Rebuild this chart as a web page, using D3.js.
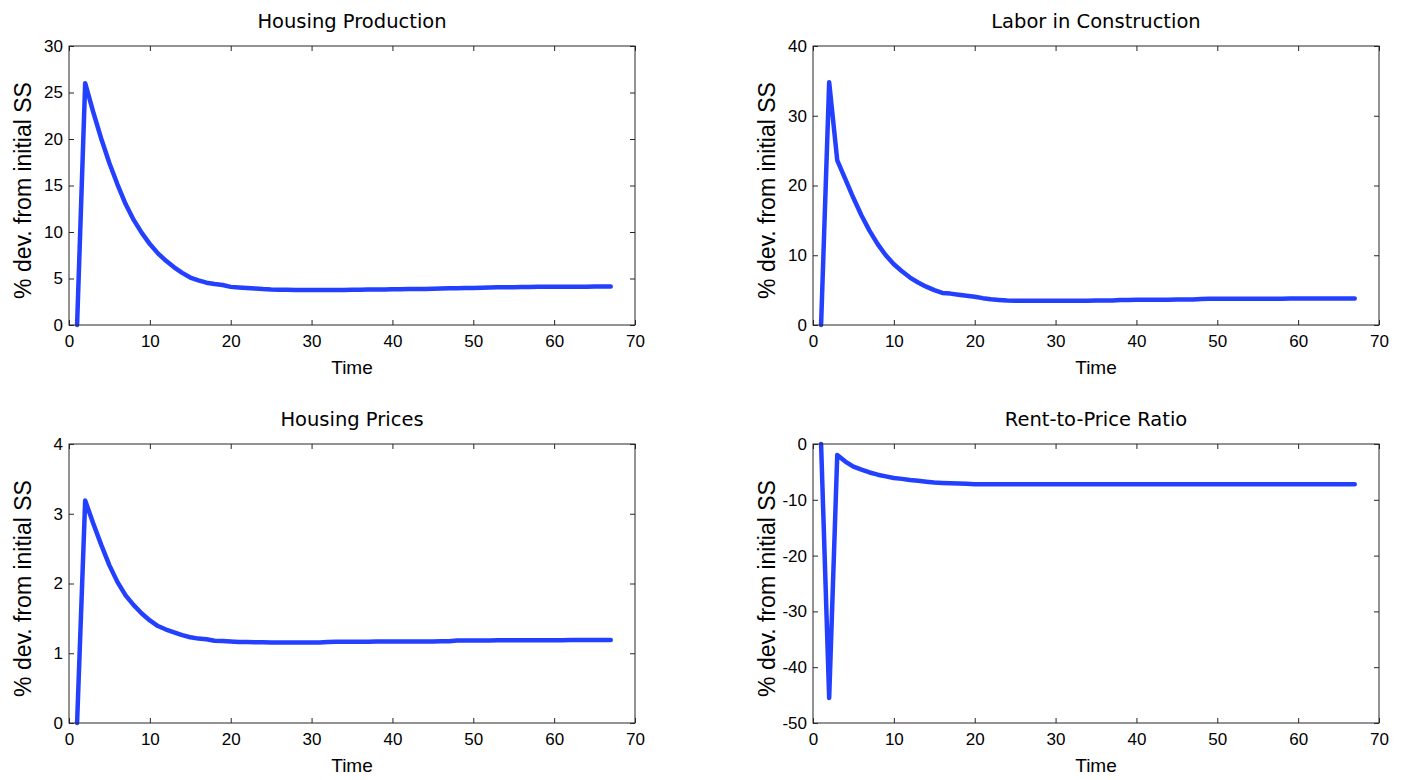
<!DOCTYPE html>
<html><head><meta charset="utf-8">
<script src="https://cdn.jsdelivr.net/npm/d3@7"></script>
<style>
html,body{margin:0;padding:0;background:#fff;}
svg{display:block;}
</style></head><body>
<svg id="chart" width="1408" height="780"></svg>
<script>
// ---- data ----
const time = d3.range(1, 68); // periods 1..67
const housingProduction = [
  0, 26.0, 22.9, 20.0, 17.4, 15.1, 13.0, 11.3, 9.9, 8.7,
  7.7, 6.9, 6.2, 5.6, 5.1, 4.8, 4.55, 4.4, 4.3, 4.1,
  4.03, 3.97, 3.92, 3.86, 3.82, 3.8, 3.78, 3.77, 3.76, 3.76,
  3.76, 3.76, 3.76, 3.77, 3.78, 3.8, 3.81, 3.82, 3.83, 3.84,
  3.85, 3.86, 3.87, 3.88, 3.9, 3.92, 3.94, 3.95, 3.97, 3.98,
  4.0, 4.02, 4.05, 4.06, 4.07, 4.08, 4.09, 4.1, 4.1, 4.11,
  4.11, 4.12, 4.12, 4.12, 4.13, 4.13, 4.13
];
const laborConstruction = [
  0, 34.8, 23.6, 20.9, 18.2, 15.7, 13.5, 11.6, 10.0, 8.7,
  7.7, 6.8, 6.1, 5.5, 5.0, 4.6, 4.5, 4.35, 4.2, 4.05,
  3.85, 3.7, 3.6, 3.5, 3.48, 3.47, 3.47, 3.47, 3.47, 3.47,
  3.47, 3.48, 3.48, 3.49, 3.5, 3.5, 3.52, 3.6, 3.6, 3.61,
  3.62, 3.62, 3.63, 3.63, 3.64, 3.64, 3.65, 3.74, 3.75, 3.75,
  3.76, 3.76, 3.77, 3.77, 3.77, 3.78, 3.78, 3.78, 3.79, 3.79,
  3.79, 3.8, 3.8, 3.8, 3.8, 3.8, 3.8
];
const housingPrices = [
  0, 3.19, 2.86, 2.55, 2.26, 2.02, 1.83, 1.69, 1.57, 1.47,
  1.39, 1.34, 1.3, 1.26, 1.23, 1.21, 1.2, 1.18, 1.175, 1.17,
  1.16, 1.16, 1.158, 1.156, 1.155, 1.155, 1.155, 1.155, 1.155, 1.155,
  1.155, 1.163, 1.164, 1.165, 1.165, 1.166, 1.166, 1.167, 1.167, 1.168,
  1.168, 1.169, 1.169, 1.17, 1.17, 1.171, 1.172, 1.182, 1.183, 1.183,
  1.184, 1.184, 1.185, 1.185, 1.186, 1.186, 1.187, 1.187, 1.188, 1.188,
  1.188, 1.189, 1.189, 1.189, 1.19, 1.19, 1.19
];
const rentToPrice = [
  0, -45.5, -1.96, -3.15, -4.05, -4.6, -5.1, -5.5, -5.8, -6.1,
  -6.25, -6.45, -6.6, -6.75, -6.9, -6.97, -7.03, -7.08, -7.14, -7.2,
  -7.2, -7.21, -7.21, -7.21, -7.22, -7.22, -7.22, -7.22, -7.22, -7.22,
  -7.22, -7.22, -7.22, -7.22, -7.22, -7.22, -7.22, -7.22, -7.22, -7.22,
  -7.22, -7.22, -7.22, -7.22, -7.22, -7.22, -7.22, -7.22, -7.22, -7.22,
  -7.22, -7.22, -7.22, -7.22, -7.22, -7.22, -7.22, -7.22, -7.22, -7.22,
  -7.22, -7.22, -7.22, -7.22, -7.22, -7.22, -7.22
];
const titles = ["Housing Production", "Labor in Construction", "Housing Prices", "Rent-to-Price Ratio"];
const xDomain = [0, 70];
const xTicks = [0, 10, 20, 30, 40, 50, 60, 70];
const yDomains = [[0, 30], [0, 40], [0, 4], [-50, 0]];
const yTicks = [
  [0, 5, 10, 15, 20, 25, 30],
  [0, 10, 20, 30, 40],
  [0, 1, 2, 3, 4],
  [-50, -40, -30, -20, -10, 0]
];
const yLabel = "% dev. from initial SS";
const xLabel = "Time";

// ---- layout ----
const W = 566, H = 279;
const origins = [[69, 46], [813, 46], [69, 444], [813, 444]];
const seriesList = [housingProduction, laborConstruction, housingPrices, rentToPrice];
const lineColor = "#2440ff";
const axisColor = "#262626";
const tickFont = "'Liberation Sans', Arial, Helvetica, sans-serif";
const titleFont = "'DejaVu Sans', sans-serif";

const svg = d3.select("#chart");

seriesList.forEach((vals, p) => {
  const [ox, oy] = origins[p];
  const g = svg.append("g").attr("transform", `translate(${ox},${oy})`);
  const x = d3.scaleLinear().domain(xDomain).range([0, W]);
  const y = d3.scaleLinear().domain(yDomains[p]).range([H, 0]);

  // data line
  const pts = vals.map((v, i) => [time[i], v]);
  g.append("path")
    .datum(pts)
    .attr("fill", "none")
    .attr("stroke", lineColor)
    .attr("stroke-width", 4.5)
    .attr("stroke-linejoin", "round")
    .attr("stroke-linecap", "round")
    .attr("d", d3.line().x(d => x(d[0])).y(d => y(d[1])));

  const fmt = d => String(d);
  const styleAxis = sel => {
    sel.select(".domain").remove();
    sel.selectAll(".tick line").attr("stroke", axisColor);
    sel.selectAll(".tick text").attr("fill", "#000");
    sel.attr("font-family", tickFont).attr("font-size", 17);
  };

  g.append("g").attr("transform", `translate(0,${H})`)
    .call(d3.axisBottom(x).tickValues(xTicks).tickFormat(fmt).tickSizeInner(-5).tickSizeOuter(0).tickPadding(10))
    .call(styleAxis);
  g.append("g")
    .call(d3.axisTop(x).tickValues(xTicks).tickFormat("").tickSizeInner(-5).tickSizeOuter(0))
    .call(styleAxis);
  g.append("g")
    .call(d3.axisLeft(y).tickValues(yTicks[p]).tickFormat(fmt).tickSizeInner(-5).tickSizeOuter(0).tickPadding(6))
    .call(styleAxis);
  g.append("g").attr("transform", `translate(${W},0)`)
    .call(d3.axisRight(y).tickValues(yTicks[p]).tickFormat("").tickSizeInner(-5).tickSizeOuter(0))
    .call(styleAxis);

  // box
  g.append("rect")
    .attr("x", 0).attr("y", 0).attr("width", W).attr("height", H)
    .attr("fill", "none").attr("stroke", axisColor).attr("stroke-width", 1);

  // title
  g.append("text")
    .attr("x", W / 2).attr("y", -18)
    .attr("text-anchor", "middle")
    .attr("font-family", titleFont).attr("font-size", 19.5)
    .attr("fill", "#000")
    .text(titles[p]);

  // x label
  g.append("text")
    .attr("x", W / 2).attr("y", H + 49)
    .attr("text-anchor", "middle")
    .attr("font-family", tickFont).attr("font-size", 19)
    .attr("fill", "#000")
    .text(xLabel);

  // y label
  g.append("text")
    .attr("transform", `translate(-38,${H / 2 + 5}) rotate(-90)`)
    .attr("text-anchor", "middle")
    .attr("font-family", tickFont).attr("font-size", 23)
    .attr("fill", "#000")
    .text(yLabel);
});
</script>
</body></html>
